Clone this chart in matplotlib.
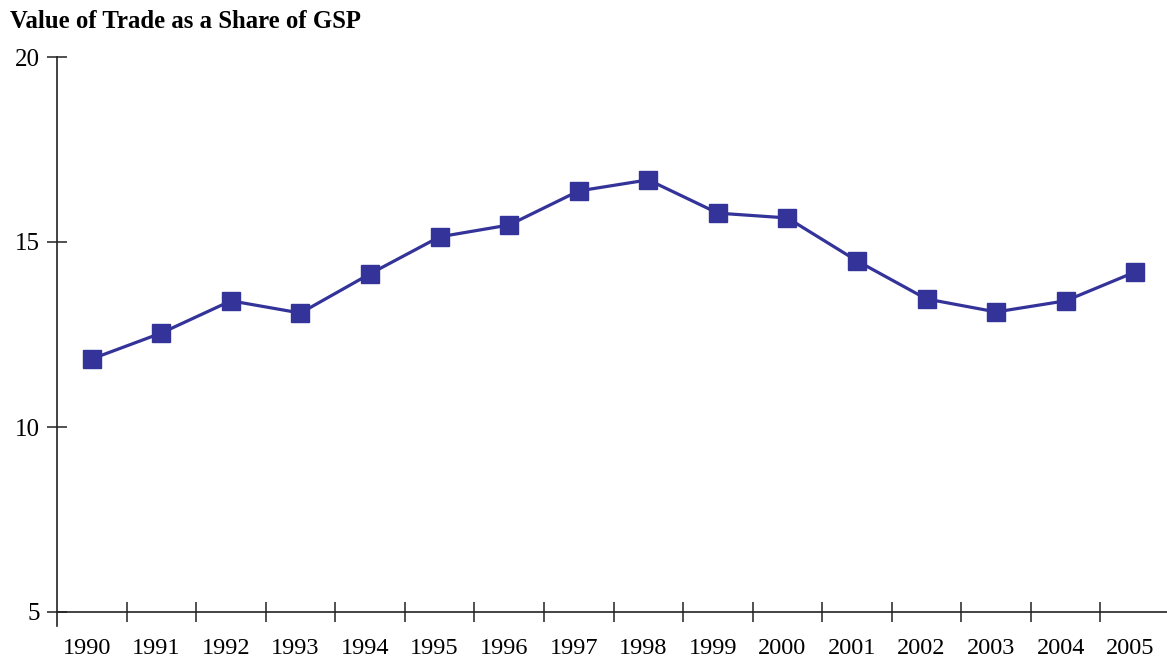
import numpy as np
import matplotlib
matplotlib.use('Agg')
import matplotlib.pyplot as plt
from matplotlib.ticker import FixedLocator
from matplotlib.transforms import ScaledTranslation

## value of trade as a share of GSP, 1990-2005

years = [str(y) for y in range(1990, 2006)]
share = [11.84, 12.54, 13.41, 13.08, 14.14, 15.14, 15.46, 16.38,
         16.68, 15.78, 15.65, 14.49, 13.46, 13.11, 13.41, 14.19]
yticks = [5, 10, 15, 20]

color = '#333399'
plt.rcParams['font.family'] = ['Liberation Serif', 'DejaVu Serif']

fig = plt.figure(figsize=(11.67, 6.6), dpi=100)
ax = fig.add_axes([57/1167, 34/660, 1113/1167, 569/660])

x = np.arange(len(years))
ax.plot(x, share, color=color, lw=2.3, marker='s', ms=13, mec=color,
        mfc=color, clip_on=False, zorder=3)

# axes: left spine runs a bit below the x axis line
ax.set_xlim(-0.5, len(years) - 0.5)
ax.set_ylim(5 - 14/37., 20)
ax.spines['top'].set_visible(False)
ax.spines['right'].set_visible(False)
ax.spines['bottom'].set_position(('data', 5))
for s in ['left', 'bottom']:
    ax.spines[s].set_linewidth(1.2)
    ax.spines[s].set_color('#222222')

# y ticks cross the axis
ax.set_yticks(yticks)
ax.set_yticklabels([str(v) for v in yticks])
ax.tick_params(axis='y', direction='inout', length=14.4, width=1.1,
               pad=5, labelsize=18, color='#222222')

# x: labels at category centres, ticks on category boundaries
ax.set_xticks(x)
ax.set_xticklabels(years)
ax.xaxis.set_minor_locator(FixedLocator(np.arange(0.5, len(years) - 1, 1.0)))
ax.tick_params(axis='x', which='major', length=0, pad=19, labelsize=17.5)
ax.tick_params(axis='x', which='minor', direction='inout', length=14.4,
               width=1.1, color='#222222')
shift = ScaledTranslation(-5/100., 0, fig.dpi_scale_trans)
for lab in ax.get_xticklabels():
    lab.set_transform(lab.get_transform() + shift)

fig.text(10/1167, 1 - 22/660, 'Value of Trade as a Share of GSP',
         fontsize=17.8, fontweight='bold', va='center', ha='left')

fig.savefig('out.png', dpi=100)
